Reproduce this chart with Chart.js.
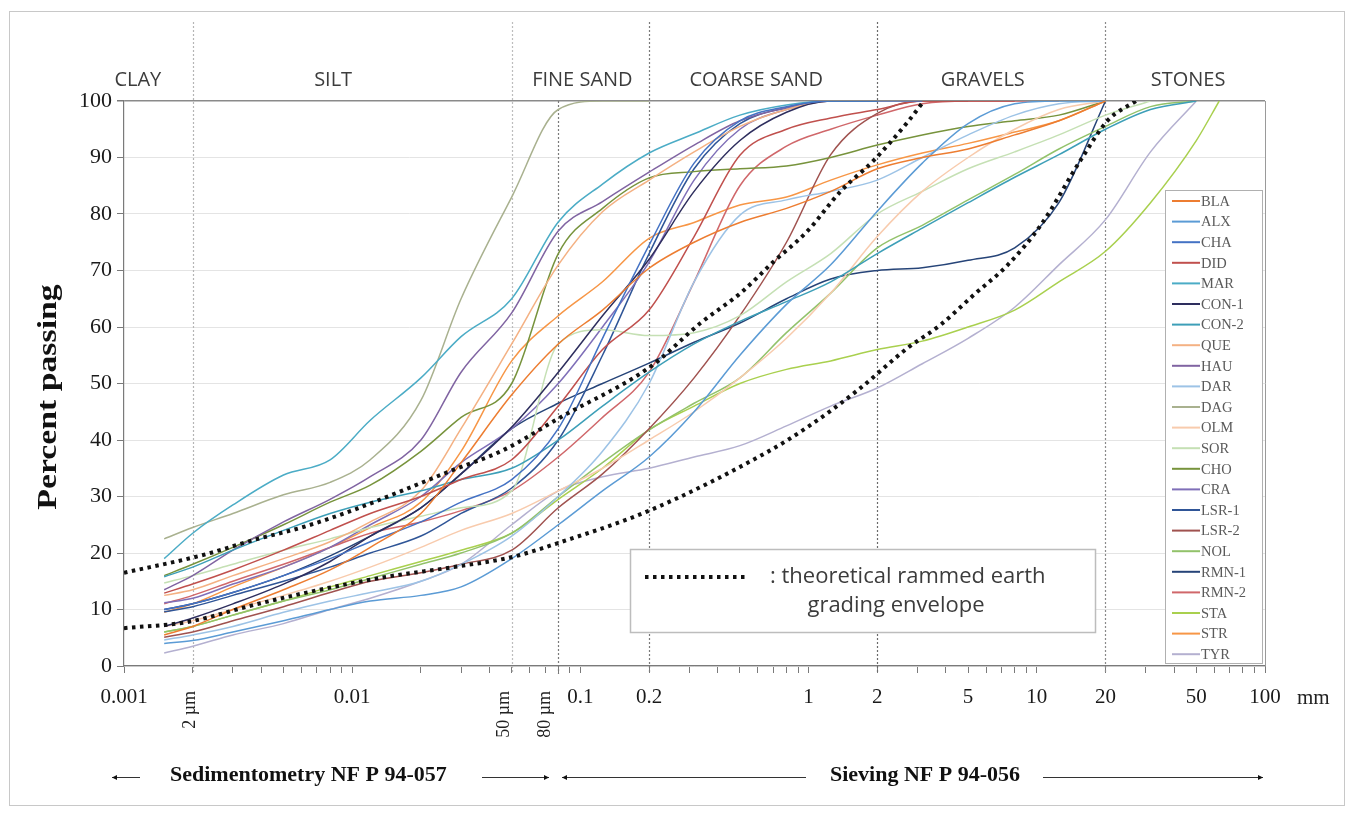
<!DOCTYPE html>
<html>
<head>
<meta charset="utf-8">
<script src="https://cdn.jsdelivr.net/npm/chart.js@4.4.1/dist/chart.umd.min.js"></script>
<style>
  html, body { margin: 0; padding: 0; background: #fff; }
  canvas { display: block; }
</style>
</head>
<body>
<canvas id="gradingChart" width="1354" height="816"></canvas>
<script>
// sieve / sedimentometry diameters (mm) shared by all samples
const sieveSizes = [0.0015, 0.002, 0.003, 0.005, 0.008, 0.012, 0.02, 0.03, 0.05, 0.08, 0.125, 0.2,
                    0.315, 0.5, 0.8, 1.25, 2, 3.15, 5, 8, 12.5, 20, 31.5, 50, 63];

// percent passing per sample
const BLA  = [5.5, 7, 10, 13.5, 17, 21, 27, 36, 48, 57, 63, 70.4, 75, 78.5, 81, 84, 88, 90, 91.5, 94, 96.5, 100];
const ALX  = [4, 4.5, 6, 8, 10, 11.5, 12.5, 14, 19, 25, 31, 37, 45, 55, 64, 71, 80.5, 89, 96, 99.5, 100, 100];
const CHA  = [10, 11, 13, 16, 19, 22, 25.5, 29, 33, 42, 58, 74.5, 89, 96.5, 99, 100, 100, 100];
const DID  = [12.9, 14.5, 17, 20.5, 24, 27, 30, 33, 36.5, 46, 56, 63, 76, 90.4, 95, 97, 98.5, 100, 100, 100];
const MAR  = [19, 23.5, 28.5, 33.8, 36.5, 43.5, 51, 58.3, 65, 78.6, 85.3, 90.8, 94.2, 97.5, 99.3, 100, 100];
const CON1 = [7, 8.5, 11, 14.5, 18.5, 23, 28, 34, 42.3, 52, 62, 72, 84, 93, 98, 100, 100];
const CON2 = [15.8, 17.5, 20.5, 24, 27, 29, 31, 33, 35, 40, 46, 52, 57, 61, 64.5, 68, 73, 77.5, 82, 86.5, 90.5, 95, 98.5, 100];
const QUE  = [12.5, 13.5, 16, 19, 22, 25.5, 31, 42, 57, 71, 80.4, 86, 91, 95.5, 98.5, 100, 100, 100];
const HAU  = [13.5, 16, 20.5, 25.5, 29.5, 33.5, 40, 52, 62.5, 77, 82.2, 87.4, 92.2, 96.5, 98.8, 100, 100];
const DAR  = [4.6, 5.5, 7, 9.5, 11.5, 13, 15, 18, 23, 30, 38, 50, 68, 79.8, 82.5, 84, 86, 90, 94, 97.5, 99.5, 100];
const DAG  = [22.5, 24.5, 27, 30.3, 32.5, 36.5, 47, 65, 83, 98.5, 100, 100];
const OLM  = [7, 8, 10, 12.5, 15, 17.5, 21, 24, 27, 31, 35, 40, 45, 51, 58, 66, 76, 84, 90, 95, 98.5, 100];
const SOR  = [14.7, 16, 18, 20.5, 22.5, 24.5, 26.5, 28, 31, 57, 59.5, 58.5, 59, 62, 68, 73, 80, 84, 88, 91, 94, 97.5, 100];
const CHO  = [16, 18, 21, 25, 29, 32, 38, 44, 50, 73, 81, 86.4, 87.5, 88, 88.5, 90, 92.2, 94, 95.5, 96.5, 97.5, 100];
const CRA  = [11.2, 12, 14.5, 17.5, 21, 25, 30, 36, 42, 50, 60, 71.5, 86, 95, 98.5, 100, 100];
const LSR1 = [9.6, 10.5, 12.5, 15, 17.5, 20, 23, 27, 31.5, 40, 55, 73, 88, 96, 98.8, 100, 100];
const LSR2 = [5.1, 6, 8, 10.5, 13, 15, 16.5, 18, 20.5, 28, 34, 42, 51, 62, 75, 90.5, 97.8, 100, 100];
const NOL  = [6, 7, 9, 11.5, 13.5, 15.5, 18, 20, 23.5, 30, 36, 41.8, 46.5, 51, 59, 66, 74, 78, 82.5, 87, 91.5, 95.5, 99, 100];
const RMN1 = [10, 11, 13, 16, 19.5, 23, 28, 34, 42, 46.5, 50, 53.6, 57.3, 60.7, 65, 68.5, 70, 70.5, 71.8, 74, 82, 100];
const RMN2 = [11, 12.5, 15, 18, 21, 23.5, 25.5, 27.5, 31, 37, 44, 52, 68, 85, 92, 95, 97.5, 99.5, 100, 100, 100];
const STA  = [6, 7, 9, 11.5, 14, 16, 18.5, 20.5, 23.5, 29.5, 35, 41.8, 46, 50, 52.5, 54, 56, 57.5, 60, 63, 68, 73.4, 82, 93, 100];
const STR  = [9.5, 11, 14, 17.5, 21, 24.5, 29, 38, 54, 62, 68, 75.7, 78.5, 81.6, 83, 86, 88.7, 90.8, 92.5, 94.5, 96.5, 100];
const TYR  = [2.3, 3.5, 5.5, 7.5, 10, 12, 15, 18, 25, 31, 33.5, 35, 37, 39, 42.5, 46, 49.2, 53.5, 58, 63.5, 71, 79, 91, 100];

const sampleNames  = ['BLA', 'ALX', 'CHA', 'DID', 'MAR', 'CON-1', 'CON-2', 'QUE', 'HAU', 'DAR', 'DAG', 'OLM',
                      'SOR', 'CHO', 'CRA', 'LSR-1', 'LSR-2', 'NOL', 'RMN-1', 'RMN-2', 'STA', 'STR', 'TYR'];
const sampleValues = [BLA, ALX, CHA, DID, MAR, CON1, CON2, QUE, HAU, DAR, DAG, OLM,
                      SOR, CHO, CRA, LSR1, LSR2, NOL, RMN1, RMN2, STA, STR, TYR];
const sampleColors = ['#ed7d31', '#5b9bd5', '#4472c4', '#c0504d', '#4bacc6', '#2e2e5e', '#3d9fb8', '#f4b183',
                      '#8064a2', '#9dc3e6', '#a9b18f', '#f8cbad', '#c5e0b4', '#77933c', '#7f6fb8', '#2f5597',
                      '#a0524f', '#92c26a', '#264478', '#d0676a', '#a9d04e', '#f79646', '#b4b0d0'];

// theoretical rammed earth grading envelope
const upperEnvSize = [0.001, 0.0022, 0.0037, 0.0061, 0.0101, 0.0167, 0.0277, 0.0459, 0.0817, 0.203, 0.336, 0.503, 0.70, 0.99, 1.38, 1.93, 2.72, 3.2];
const upperEnvPct  = [16.5, 19.6, 22.3, 24.6, 27.6, 31.1, 34.7, 38.2, 44, 53, 60.7, 66, 71.5, 77, 84, 89.5, 96.3, 100];
const lowerEnvSize = [0.001, 0.0019, 0.0037, 0.0072, 0.0142, 0.0277, 0.0503, 0.0817, 0.203, 0.661, 0.99, 1.64, 2.72, 3.79, 5.3, 7.46, 10.4, 15.6, 20.5, 27.2];
const lowerEnvPct  = [6.7, 7.8, 10.8, 13.5, 15.8, 17.5, 19.3, 21.9, 27.6, 37.9, 42.3, 48.8, 56.3, 60.4, 65.7, 71, 78, 89.6, 96.6, 100];

// axis
const xTickLabels = [0.001, 0.01, 0.1, 0.2, 1, 2, 5, 10, 20, 50, 100];
const yTicks = [0, 10, 20, 30, 40, 50, 60, 70, 80, 90, 100];

// class limits and labels along the top
const classLimits = [0.002, 0.05, 0.08, 0.2, 2, 20];
const classNames = ['CLAY', 'SILT', 'FINE SAND', 'COARSE SAND', 'GRAVELS', 'STONES'];
const classLabelAt = [0.00115, 0.00825, 0.102, 0.59, 5.8, 46];
const micronLabels = ['2 µm', '50 µm', '80 µm'];
const micronAt = [0.002, 0.05, 0.08];

function toPoints(sizes, values) {
    return values.map((v, i) => ({ x: sizes[i], y: v }));
}

// tick marks at 1..9 x 10^n
const xTickMarks = [];
for (let e = -3; e <= 1; e++) {
    for (let m = 1; m <= 9; m++) {
        xTickMarks.push(Number((m * Math.pow(10, e)).toPrecision(3)));
    }
}
xTickMarks.push(100);

const envelopeStyle = {
    borderColor: '#111',
    borderWidth: 4,
    borderDash: [3.5, 4.5],
    pointRadius: 0,
    fill: false,
    cubicInterpolationMode: 'monotone'
};

const datasets = [
    Object.assign({ label: 'upper envelope', data: toPoints(upperEnvSize, upperEnvPct) }, envelopeStyle),
    Object.assign({ label: 'lower envelope', data: toPoints(lowerEnvSize, lowerEnvPct) }, envelopeStyle)
];
sampleNames.forEach((name, i) => {
    datasets.push({
        label: name,
        data: toPoints(sieveSizes, sampleValues[i]),
        borderColor: sampleColors[i],
        borderWidth: 1.5,
        pointRadius: 0,
        fill: false,
        cubicInterpolationMode: 'monotone'
    });
});

const SERIF = '"Liberation Serif", "Times New Roman", serif';
const SANS = '"Open Sans", "Noto Sans", sans-serif';

function dottedLine(ctx, x1, x2, y) {
    ctx.save();
    ctx.strokeStyle = '#111';
    ctx.lineWidth = 4;
    ctx.setLineDash([3.5, 4.5]);
    ctx.beginPath();
    ctx.moveTo(x1, y);
    ctx.lineTo(x2, y);
    ctx.stroke();
    ctx.restore();
}

function arrow(ctx, x1, x2, y, headAt) {
    ctx.beginPath();
    ctx.moveTo(x1, y);
    ctx.lineTo(x2, y);
    ctx.stroke();
    const hx = headAt === 'left' ? x1 : x2;
    const d = headAt === 'left' ? 5 : -5;
    ctx.beginPath();
    ctx.moveTo(hx, y);
    ctx.lineTo(hx + d, y - 2.5);
    ctx.lineTo(hx + d, y + 2.5);
    ctx.closePath();
    ctx.fill();
}

const decorations = {
    id: 'decorations',
    beforeDraw(chart) {
        const ctx = chart.ctx;
        ctx.save();
        ctx.fillStyle = '#fff';
        ctx.fillRect(0, 0, chart.width, chart.height);
        ctx.restore();
    },
    beforeDatasetsDraw(chart) {
        const ctx = chart.ctx;
        const area = chart.chartArea;
        const xs = chart.scales.x;
        ctx.save();
        // right frame
        ctx.strokeStyle = '#9a9a9a';
        ctx.lineWidth = 1;
        ctx.beginPath();
        ctx.moveTo(area.right + 0.5, area.top);
        ctx.lineTo(area.right + 0.5, area.bottom);
        ctx.stroke();
        // class limit lines
        const lineColors = ['#b5b5b5', '#bdbdbd', '#7a7a7a', '#7a7a7a', '#6a6a6a', '#8a8a8a'];
        classLimits.forEach((v, i) => {
            const x = Math.round(xs.getPixelForValue(v)) + 0.5;
            ctx.strokeStyle = lineColors[i];
            ctx.lineWidth = 1.2;
            ctx.setLineDash([2, 2]);
            ctx.beginPath();
            ctx.moveTo(x, v === 0.08 ? area.top : 22);
            ctx.lineTo(x, area.bottom + 8);
            ctx.stroke();
        });
        ctx.restore();
    },
    afterDraw(chart) {
        const ctx = chart.ctx;
        const area = chart.chartArea;
        const xs = chart.scales.x;
        ctx.save();

        // class names
        ctx.fillStyle = '#3c3c3c';
        ctx.font = '20px ' + SANS;
        ctx.textAlign = 'center';
        ctx.textBaseline = 'middle';
        classNames.forEach((name, i) => {
            ctx.fillText(name, xs.getPixelForValue(classLabelAt[i]), 80);
        });

        // rotated micron labels
        ctx.fillStyle = '#222';
        ctx.font = '18px ' + SERIF;
        const micronShift = [-2, -7, -13];
        micronLabels.forEach((t, i) => {
            ctx.save();
            ctx.translate(xs.getPixelForValue(micronAt[i]) + micronShift[i], 691);
            ctx.rotate(-Math.PI / 2);
            ctx.textAlign = 'right';
            ctx.textBaseline = 'middle';
            ctx.fillText(t, 0, 0);
            ctx.restore();
        });

        // unit after the last tick label
        ctx.font = '21px ' + SERIF;
        ctx.textAlign = 'left';
        ctx.textBaseline = 'middle';
        ctx.fillText('mm', area.right + 32, 698);

        // y axis title
        ctx.save();
        ctx.translate(49, 397);
        ctx.rotate(-Math.PI / 2);
        ctx.scale(1.25, 1);
        ctx.font = 'bold 27px ' + SERIF;
        ctx.fillStyle = '#111';
        ctx.textAlign = 'center';
        ctx.textBaseline = 'middle';
        ctx.fillText('Percent passing', 0, 0);
        ctx.restore();

        // test standards under the axis
        ctx.fillStyle = '#111';
        ctx.strokeStyle = '#333';
        ctx.lineWidth = 1;
        ctx.font = 'bold 22px ' + SERIF;
        ctx.textAlign = 'left';
        ctx.textBaseline = 'middle';
        ctx.fillText('Sedimentometry NF P 94-057', 170, 775);
        ctx.fillText('Sieving NF P 94-056', 830, 775);
        arrow(ctx, 112, 140, 777.5, 'left');
        arrow(ctx, 482, 549, 777.5, 'right');
        arrow(ctx, 562, 806, 777.5, 'left');
        arrow(ctx, 1043, 1263, 777.5, 'right');

        // envelope legend box
        ctx.fillStyle = '#fff';
        ctx.fillRect(630, 549, 465, 83);
        ctx.strokeStyle = '#bdbdbd';
        ctx.lineWidth = 1.5;
        ctx.strokeRect(630.5, 549.5, 465, 83);
        dottedLine(ctx, 645, 745, 577);
        ctx.fillStyle = '#3c3c3c';
        ctx.font = '22px ' + SANS;
        ctx.textAlign = 'left';
        ctx.textBaseline = 'middle';
        ctx.fillText(': theoretical rammed earth', 770, 577);
        ctx.textAlign = 'center';
        ctx.fillText('grading envelope', 896, 606);

        // sample legend
        ctx.fillStyle = '#fff';
        ctx.fillRect(1165, 190, 97, 473);
        ctx.strokeStyle = '#b0b0b0';
        ctx.lineWidth = 1;
        ctx.strokeRect(1165.5, 190.5, 97, 473);
        ctx.font = '14.5px ' + SERIF;
        ctx.textAlign = 'left';
        ctx.textBaseline = 'middle';
        sampleNames.forEach((name, i) => {
            const y = 201 + i * 20.6;
            ctx.strokeStyle = sampleColors[i];
            ctx.lineWidth = 2;
            ctx.beginPath();
            ctx.moveTo(1172, y);
            ctx.lineTo(1200, y);
            ctx.stroke();
            ctx.fillStyle = '#5a5a5a';
            ctx.fillText(name, 1201, y + 1);
        });

        // outer frame of the figure
        ctx.strokeStyle = '#c8c8c8';
        ctx.lineWidth = 1;
        ctx.strokeRect(9.5, 11.5, 1335, 794);
        ctx.restore();
    }
};

new Chart(document.getElementById('gradingChart'), {
    type: 'line',
    data: { datasets: datasets },
    plugins: [decorations],
    options: {
        responsive: false,
        animation: false,
        events: [],
        layout: { padding: { top: 101, right: 89, bottom: 0, left: 0 } },
        plugins: {
            legend: { display: false },
            tooltip: { enabled: false }
        },
        scales: {
            x: {
                type: 'logarithmic',
                min: 0.001,
                max: 100,
                afterBuildTicks: (scale) => {
                    scale.ticks = xTickMarks.map(v => ({ value: v }));
                },
                afterFit: (scale) => { scale.height = 150; },
                ticks: {
                    autoSkip: false,
                    maxRotation: 0,
                    padding: 12,
                    color: '#1a1a1a',
                    font: { family: SERIF, size: 21 },
                    callback: (value) => xTickLabels.includes(value) ? String(value) : ''
                },
                grid: {
                    drawOnChartArea: false,
                    drawTicks: true,
                    tickLength: 7,
                    color: '#7a7a7a'
                },
                border: { display: true, color: '#7a7a7a', width: 1.2 }
            },
            y: {
                min: 0,
                max: 100,
                afterBuildTicks: (scale) => {
                    scale.ticks = yTicks.map(v => ({ value: v }));
                },
                afterFit: (scale) => { scale.width = 124; },
                ticks: {
                    padding: 5,
                    color: '#1a1a1a',
                    font: { family: SERIF, size: 22 }
                },
                grid: {
                    color: (c) => c.tick && c.tick.value === 100 ? '#8a8a8a' : '#e4e4e4',
                    lineWidth: (c) => c.tick && c.tick.value === 100 ? 1.5 : 1,
                    tickColor: '#7a7a7a',
                    tickLength: 7
                },
                border: { display: true, color: '#7a7a7a', width: 1.2 }
            }
        }
    }
});
</script>
</body>
</html>
